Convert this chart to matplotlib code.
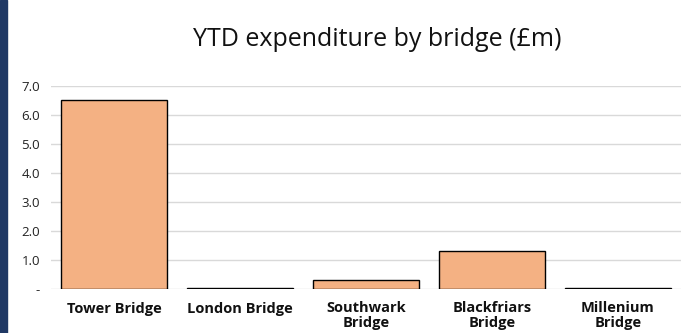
import matplotlib
matplotlib.use('Agg')
import matplotlib.pyplot as plt
from matplotlib.patches import Rectangle

TITLE = 'YTD expenditure by bridge (£m)'
bridges = ['Tower Bridge', 'London Bridge', 'Southwark\nBridge',
           'Blackfriars\nBridge', 'Millenium\nBridge']
spend = [6.5, 0.03, 0.3, 1.3, 0.03]
yticks = [0, 1, 2, 3, 4, 5, 6, 7]
ylabels = ['-', '1.0', '2.0', '3.0', '4.0', '5.0', '6.0', '7.0']

plt.rcParams['font.family'] = ['Open Sans', 'DejaVu Sans']

fig = plt.figure(figsize=(6.84, 3.33), dpi=100)
# navy strip down the left edge
fig.patches.append(Rectangle((0, 0), 7 / 684, 1, transform=fig.transFigure,
                             color='#1f3864', zorder=0))

ax = fig.add_axes([51 / 684, 44 / 333, 630 / 684, 203 / 333])
x = range(len(bridges))
ax.bar(x, spend, width=0.84, color='#f4b183', edgecolor='black',
       linewidth=1.0, zorder=3)
ax.set_xlim(-0.5, len(bridges) - 0.5)
ax.set_ylim(0, 7)
ax.set_yticks(yticks)
ax.set_yticklabels(ylabels, fontsize=9.5, color='#222222')
ax.set_xticks(list(x))
ax.set_xticklabels(bridges, fontsize=10.5, fontweight='bold', color='#111111',
                   linespacing=1.0)
ax.tick_params(axis='both', length=0)
ax.tick_params(axis='x', pad=9)
ax.tick_params(axis='y', pad=8)
ax.grid(axis='y', color='#d9d9d9', linewidth=1.0, zorder=0)
for s in ax.spines.values():
    s.set_visible(False)

fig.text(377 / 684, 1 - 40 / 333, TITLE, fontsize=18, ha='center',
         va='center', color='#111111')

fig.savefig('out.png', dpi=100)
